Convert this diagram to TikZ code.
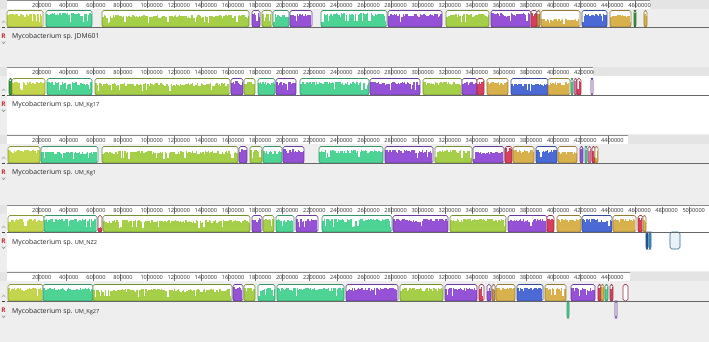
\documentclass[tikz,border=0pt]{standalone}
\usepackage{fontspec}
\setmainfont{Open Sans}
\usetikzlibrary{positioning}
\definecolor{panelgray}{HTML}{EEEEEE}
\definecolor{rulergray}{HTML}{E4E4E4}
\definecolor{yg}{HTML}{C2D54C}
\definecolor{lg}{HTML}{A5CF48}
\definecolor{tl}{HTML}{4DD494}
\definecolor{pu}{HTML}{9552D6}
\definecolor{rd}{HTML}{D8405C}
\definecolor{pk}{HTML}{E070A0}
\definecolor{gd}{HTML}{D8B04C}
\definecolor{bl}{HTML}{4C6AD6}
\definecolor{dg}{HTML}{3A9A40}
\definecolor{cy}{HTML}{3C96C8}
\definecolor{db}{HTML}{2A5AA0}
\definecolor{tn}{HTML}{C09050}
\definecolor{rred}{HTML}{C0302A}
\tikzset{tickno/.style={anchor=west, inner sep=0, font=\fontsize{5.6}{6}\selectfont, text=black!80}}
\tikzset{seqname/.style={anchor=west, inner sep=0, font=\fontsize{6.8}{8}\selectfont, text=black!85}}
\tikzset{backbone/.style={draw=black!60, line width=0.7}}
\tikzset{lcbox/.style={rounded corners=1.8, line width=0.6}}
\newcommand{\strain}[1]{{\fontsize{5.6}{6}\selectfont #1}}
% one LCB: left, right, backbone y, colour, profile level
\newcommand{\lcb}[5]{%
  \fill[white, rounded corners=1.8] (#1,#3) rectangle (#2,#3-16.5);
  \pgfmathtruncatemacro{\nbar}{max((#2-#1)/1.3-1,0)}
  \foreach \i in {0,...,\nbar}{
    \pgfmathsetmacro{\hh}{#5*(1-0.25*rnd^2)*((rnd<0.07) ? 0.45 : 1)}
    \fill[fill=#4] ({#1+0.3+\i*1.3},#3) rectangle ++(1.35,{-16.2*\hh});
  }
  \draw[draw=#4!70!black, lcbox] (#1,#3) rectangle (#2,#3-16.5);
}
% LCB below the backbone (reverse strand)
\newcommand{\rlcb}[4]{%
  \filldraw[fill=#4, draw=#3!70!black, lcbox] (#1,0) rectangle (#2,17);
}
% ruler: top, end, number of ticks
\newcommand{\ruler}[3]{%
  \fill[rulergray] (0,#1) rectangle (709,#1+9);
  \fill[white] (7,#1) rectangle (#2,#1+9);
  \draw[black!45, line width=0.4] (7,#1+0.2) -- (#2,#1+0.2);
  \begin{scope}
    \clip (7,#1) rectangle (#2,#1+9);
    \foreach \k in {1,...,#3}{
      \draw[black!55, line width=0.3] (11.5+27.1*\k,#1+1.5) -- ++(0,7);
      \node[tickno] at (11.5+27.1*\k-6.7,#1+5) {\the\numexpr\k*2\relax 00000};
    }
  \end{scope}
}
% backbone and the controls on the left
\newcommand{\ctrl}[1]{%
  \draw[backbone] (7,#1) -- (709,#1);
  \draw[black!35, line width=0.5] (1.8,#1-4) -- (3.6,#1-6) -- (5.4,#1-4);
  \draw[black!75, line width=0.6] (2,#1) -- (5.2,#1);
  \node[font=\bfseries\fontsize{6.5}{6}\selectfont, text=rred, inner sep=0] at (3.6,#1+9) {R};
  \draw[black!45, line width=0.6] (1.8,#1+14.5) -- (3.6,#1+16.5) -- (5.4,#1+14.5);
}

\begin{document}
\begin{tikzpicture}[x=1pt, y=-1pt]
  \pgfmathsetseed{11}
  \useasboundingbox (0,0) rectangle (709,342);
  \fill[panelgray] (0,0) rectangle (709,342);
  \fill[white] (7,76) rectangle (709,134);
  \fill[white] (7,214) rectangle (709,271);
  %
  % JDM601
  \ruler{0}{650}{23}
  \foreach \a/\b/\c/\d in {7/43/yg/.8, 46/92/tl/.85, 102/249/lg/.72, 252/260/pu/.85,
      262/272/lg/.8, 273/289/tl/.8, 290/312/pu/.8, 321/387/tl/.85, 388/442/pu/.8,
      446/489/lg/.8, 491/531/pu/.85, 531/537/rd/.85, 537/540/tn/.8, 541/580/gd/.5,
      582/607/bl/.8, 610/631/gd/.75, 634/636/dg/.9, 644/647/gd/.8}
    \lcb{\a}{\b}{27}{\c}{\d};
  \ctrl{27}
  \node[seqname] (jdm) at (12,37) {Mycobacterium sp. JDM601};
  %
  % UM_Kg17
  \ruler{67}{593}{21}
  \foreach \a/\b/\c/\d in {9/12/dg/.9, 12/45/yg/.8, 47/92/tl/.8, 95/230/lg/.72,
      231/243/pu/.85, 244/255/lg/.8, 258/275/tl/.8, 276/296/pu/.8, 300/369/tl/.8,
      370/420/pu/.8, 423/462/lg/.8, 462/477/pu/.8, 477/484/rd/.85, 487/508/gd/.8,
      511/548/bl/.7, 548/570/gd/.8, 571/573/tl/.9, 574/577/pk/.9, 577/581/rd/.9, 591/593/pu/0}
    \lcb{\a}{\b}{95}{\c}{\d};
  \ctrl{95}
  \node[seqname] (kg17) at (12,105) {Mycobacterium sp. \strain{UM\_Kg17}};
  %
  % UM_Kg1
  \ruler{135}{628}{22}
  \foreach \a/\b/\c/\d in {8/40/yg/.8, 41/98/tl/.7, 102/238/lg/.72, 239/247/pu/.85,
      250/262/lg/.8, 263/282/tl/.75, 283/304/pu/.85, 319/383/tl/.8, 385/433/pu/.8,
      435/472/lg/.8, 473/504/pu/.7, 505/512/rd/.9, 513/534/gd/.8, 536/557/bl/.8,
      558/577/gd/.7, 580/583/pu/.9, 585/587/tl/.9, 588/591/pk/.9, 592/595/rd/.9, 595/598/gd/.8}
    \lcb{\a}{\b}{163}{\c}{\d};
  \ctrl{163}
  \node[seqname] (kg1) at (12,173) {Mycobacterium sp. \strain{UM\_Kg1}};
  %
  % UM_NZ2
  \ruler{205}{709}{25}
  \foreach \a/\b/\c/\d in {8/44/yg/.8, 44/97/tl/.8, 98/102/rd/.3, 103/250/lg/.72,
      252/262/pu/.85, 263/274/lg/.8, 276/294/tl/.8, 296/318/pu/.8, 322/392/tl/.8,
      393/448/pu/.8, 450/506/lg/.8, 508/547/pu/.8, 547/554/rd/.85, 557/581/gd/.8,
      582/612/bl/.8, 613/636/gd/.8, 638/643/rd/.85, 643/646/gd/.8}
    \lcb{\a}{\b}{232}{\c}{\d};
  \begin{scope}[yshift=-232pt]
    \rlcb{646}{648}{db}{db}
    \rlcb{649}{651}{cy}{cy}
    \rlcb{670}{680}{cy}{cy!12}
  \end{scope}
  \ctrl{232}
  \node[seqname] (nz2) at (12,243) {Mycobacterium sp. \strain{UM\_NZ2}};
  %
  % UM_Kg27
  \ruler{272}{630}{22}
  \foreach \a/\b/\c/\d in {8/43/yg/.8, 43/93/tl/.8, 93/232/lg/.72, 233/243/pu/.85,
      244/255/lg/.8, 258/275/tl/.8, 277/344/tl/.8, 346/398/pu/.8, 400/443/lg/.8,
      445/477/pu/.8, 479/484/rd/.85, 487/491/pu/.8, 492/495/tn/.8, 496/515/gd/.8,
      517/543/bl/.8, 545/566/gd/.8, 571/595/pu/.8, 598/601/rd/.9, 601/604/gd/.9,
      605/608/tl/.9, 610/613/rd/.9, 623/628/rd/0}
    \lcb{\a}{\b}{301}{\c}{\d};
  \begin{scope}[yshift=-301pt]
    \rlcb{567}{569}{tl}{tl}
    \rlcb{615}{617}{pu}{white}
  \end{scope}
  \ctrl{301}
  \node[seqname] (kg27) at (12,312) {Mycobacterium sp. \strain{UM\_Kg27}};
\end{tikzpicture}
\end{document}
